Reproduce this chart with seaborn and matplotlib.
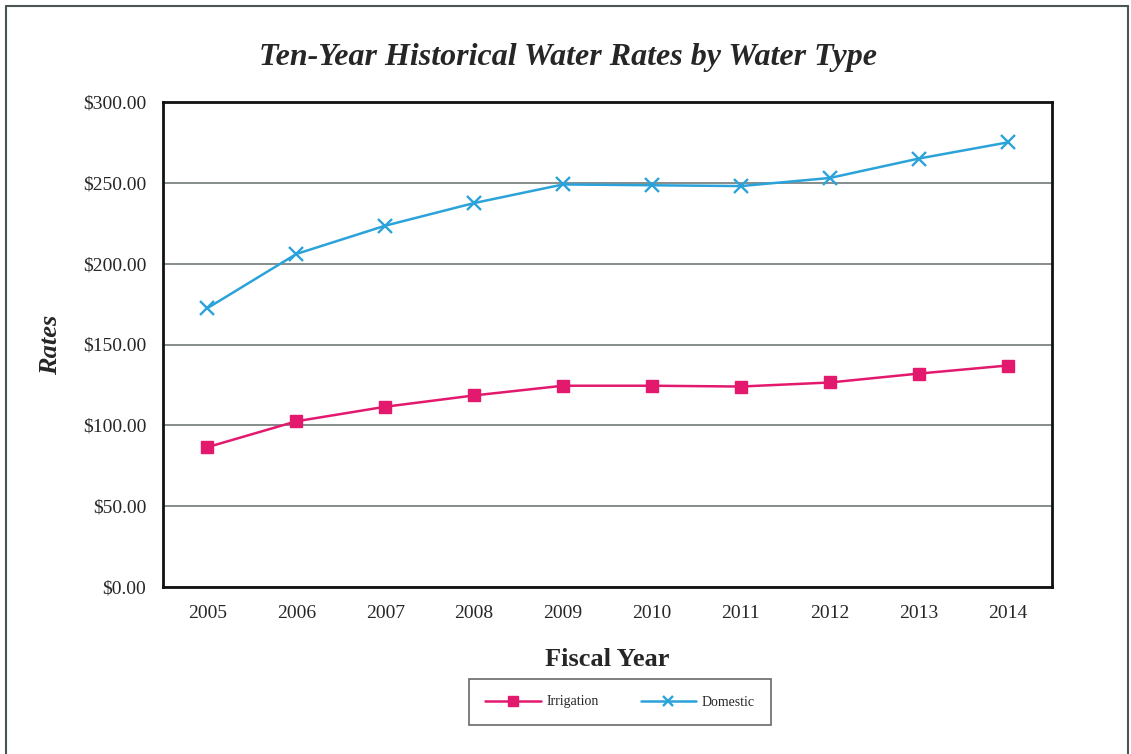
import numpy as np
import pandas as pd
import matplotlib.pyplot as plt
from matplotlib.ticker import FixedLocator, FuncFormatter
import seaborn as sns

sns.set_style("white")
plt.rcParams['font.family'] = ['Liberation Serif', 'DejaVu Serif']

years = ['2005', '2006', '2007', '2008', '2009', '2010', '2011', '2012', '2013', '2014']
irrigation = [86.5, 102.5, 111.5, 118.5, 124.5, 124.5, 124.0, 126.5, 132.0, 137.0]
domestic = [172.5, 206.0, 223.5, 237.5, 249.0, 248.5, 248.0, 253.0, 265.0, 275.0]

df = pd.DataFrame({
    'Year': years * 2,
    'Rate': irrigation + domestic,
    'Type': ['Irrigation'] * len(years) + ['Domestic'] * len(years),
})

pal = {'Irrigation': '#E3196E', 'Domestic': '#2BA3DA'}

fig = plt.figure(figsize=(11.31, 7.54), dpi=100)
ax = fig.add_axes([163 / 1131, 1 - 587 / 754, (1052 - 163) / 1131, (587 - 102) / 754])

for name, mk, ms, mew in [('Irrigation', 's', 9, 1), ('Domestic', 'x', 9.5, 1.7)]:
    sub = df[df['Type'] == name]
    sns.lineplot(data=sub, x='Year', y='Rate', ax=ax, color=pal[name], linewidth=1.8,
                 marker=mk, markersize=ms, markeredgewidth=mew,
                 markeredgecolor=pal[name], label=name, sort=False)

ax.set_xlim(-0.5, len(years) - 0.5)
ax.set_ylim(0, 300)
ax.set_yticks(np.arange(0, 301, 50))
ax.yaxis.set_major_formatter(FuncFormatter(lambda v, p: f"${v:.2f}"))
ax.yaxis.grid(True, color='#6f7a78', linewidth=1.2)
ax.xaxis.grid(False)
ax.set_axisbelow(True)

ax.xaxis.set_minor_locator(FixedLocator(np.arange(-0.5, len(years), 1.0)))
ax.tick_params(axis='x', which='major', length=0, labelsize=14, pad=13)
ax.tick_params(axis='x', which='minor', length=5, width=1, color='#555', direction='out')
ax.tick_params(axis='y', which='major', length=6, width=1, color='#555', direction='out',
               labelsize=14, pad=6)

for s in ax.spines.values():
    s.set_color('#111')
    s.set_linewidth(2)

ax.set_xlabel('Fiscal Year', fontsize=19, fontweight='bold', labelpad=19)
ax.set_ylabel('Rates', fontsize=19, fontweight='bold', fontstyle='italic')
ax.yaxis.set_label_coords(-0.114, 0.5)

fig.text(568 / 1131, 1 - 57 / 754, 'Ten-Year Historical Water Rates by Water Type',
         ha='center', va='center', fontsize=23, fontweight='bold', fontstyle='italic')

if ax.legend_:
    ax.legend_.remove()
handles, labels = ax.get_legend_handles_labels()
leg = fig.legend(handles, labels, loc='center', ncol=2,
                 bbox_to_anchor=(620 / 1131, 1 - 702 / 754), frameon=True,
                 fancybox=False, edgecolor='#444', fontsize=10, handlelength=4,
                 columnspacing=3, borderpad=1.2, handletextpad=0.4)
for h in leg.legend_handles:
    h.set_markersize(7)
leg.get_frame().set_linewidth(1.2)

# outer chart frame
for xs, ys in [([6, 6], [6, 754]), ([6, 1128], [6, 6]), ([1128, 1128], [6, 754])]:
    fig.add_artist(plt.Line2D([x / 1131 for x in xs], [1 - y / 754 for y in ys],
                              color='#4a5555', linewidth=1.5, transform=fig.transFigure))

fig.savefig('out.png', dpi=100)
